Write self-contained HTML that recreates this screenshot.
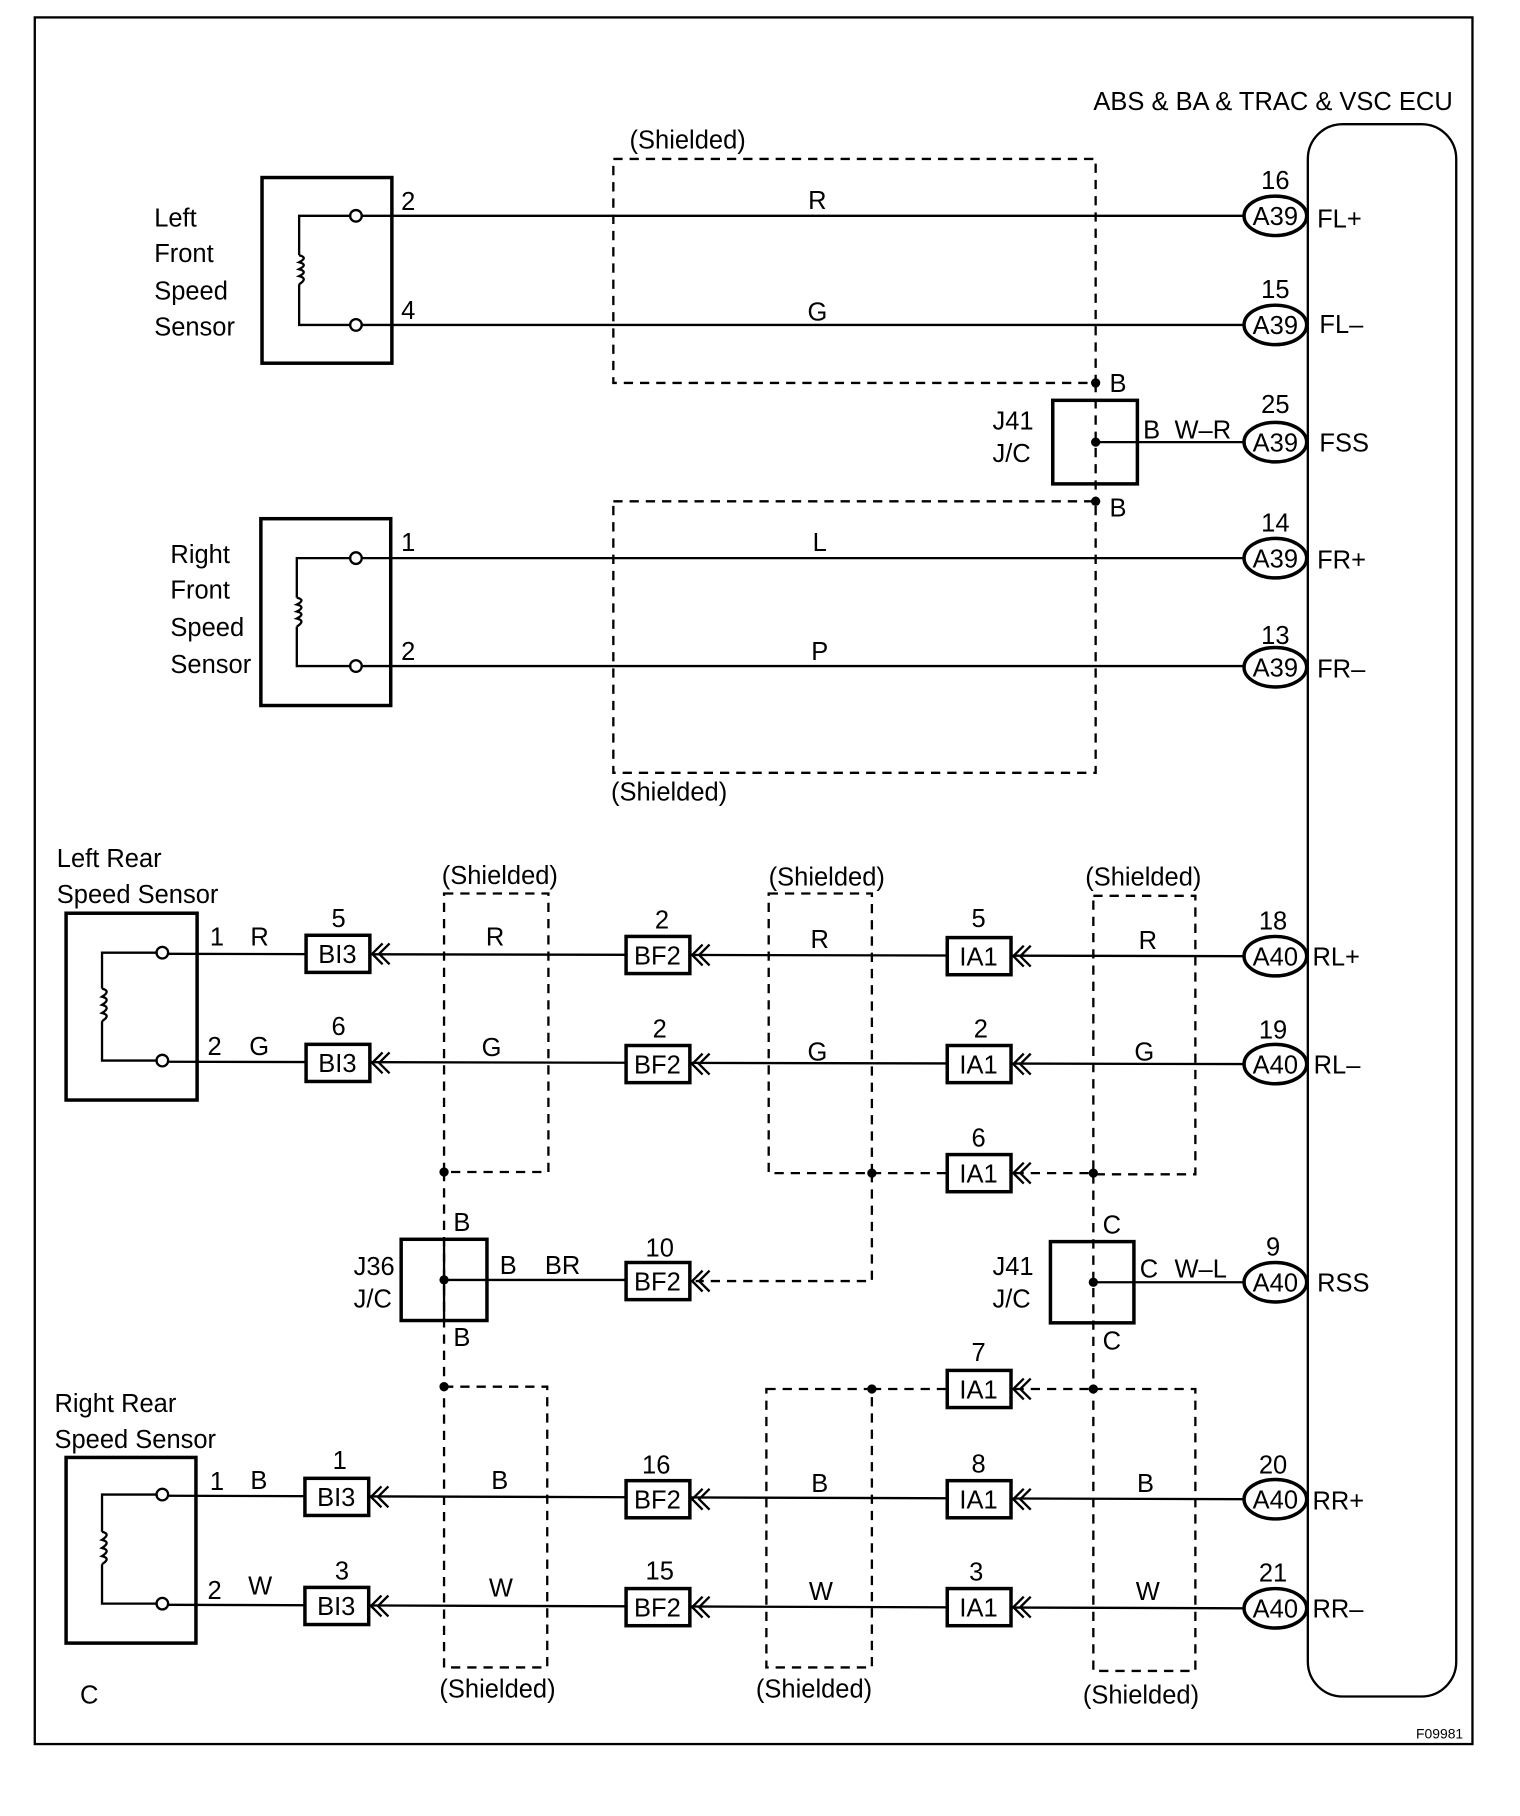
<!DOCTYPE html>
<html><head><meta charset="utf-8"><style>
html,body{margin:0;padding:0;background:#fff;}
svg{display:block;}
text{font-family:"Liberation Sans",Arial,sans-serif;font-size:22px;fill:#000;}
.c{text-anchor:middle;}
.w{stroke:#000;stroke-width:2;fill:none;}
.b{stroke:#000;stroke-width:3;fill:#fff;}
.o{stroke:#000;stroke-width:3;fill:none;}
.d{stroke:#000;stroke-width:2;fill:none;stroke-dasharray:8,6;}
</style></head><body>
<svg width="1520" height="1816" viewBox="0 0 1311 1565" preserveAspectRatio="none" xmlns="http://www.w3.org/2000/svg">
<rect x="30" y="15" width="1240" height="1488" class="w" stroke-width="3"/>
<rect x="1128" y="107" width="128" height="1355" rx="30" class="w" stroke-width="3"/>
<text x="1253" y="95" text-anchor="end">ABS &amp; BA &amp; TRAC &amp; VSC ECU</text>

<rect x="529" y="137" width="416" height="193" class="d"/>
<text x="543" y="128">(Shielded)</text>
<rect x="529" y="432" width="416" height="234" class="d"/>
<text x="527" y="690">(Shielded)</text>
<line x1="945" y1="330" x2="945" y2="432" class="d"/>

<rect x="226" y="153" width="112" height="160" class="b"/>
<path d="M303,186 H258 V220 M258,245 V280 H303" class="w"/>
<path d="M258,220 q8,2 0,6 q8,2 0,6 q8,2 0,6 q8,2 0,7" class="w"/>
<circle cx="307" cy="186" r="5" class="w" fill="#fff"/>
<circle cx="307" cy="280" r="5" class="w" fill="#fff"/>
<text x="133" y="195">Left</text><text x="133" y="226">Front</text><text x="133" y="258">Speed</text><text x="133" y="289">Sensor</text>
<line x1="312" y1="186" x2="1073" y2="186" class="w"/>
<line x1="312" y1="280" x2="1073" y2="280" class="w"/>
<text x="346" y="181">2</text><text x="346" y="275">4</text>
<text x="705" y="180" class="c">R</text><text x="705" y="276" class="c">G</text>

<rect x="225" y="447" width="112" height="161" class="b"/>
<path d="M303,481 H256 V515 M256,540 V574 H303" class="w"/>
<path d="M256,515 q8,2 0,6 q8,2 0,6 q8,2 0,6 q8,2 0,7" class="w"/>
<circle cx="307" cy="481" r="5" class="w" fill="#fff"/>
<circle cx="307" cy="574" r="5" class="w" fill="#fff"/>
<text x="147" y="485">Right</text><text x="147" y="516">Front</text><text x="147" y="548">Speed</text><text x="147" y="580">Sensor</text>
<line x1="312" y1="481" x2="1073" y2="481" class="w"/>
<line x1="312" y1="574" x2="1073" y2="574" class="w"/>
<text x="346" y="475">1</text><text x="346" y="569">2</text>
<text x="707" y="475" class="c">L</text><text x="707" y="569" class="c">P</text>

<rect x="908" y="345" width="73" height="72" class="o"/>
<line x1="945" y1="381" x2="1073" y2="381" class="w"/>
<circle cx="945" cy="330" r="4"/><circle cx="945" cy="381" r="4"/><circle cx="945" cy="432" r="4"/>
<text x="957" y="338">B</text><text x="957" y="445">B</text>
<text x="986" y="378">B</text><text x="1013" y="378">W–R</text>
<text x="856" y="370">J41</text><text x="856" y="398">J/C</text>

<ellipse cx="1100" cy="186" rx="27" ry="17" class="b"/><text x="1100" y="194" class="c">A39</text><text x="1100" y="163" class="c">16</text><text x="1136" y="196">FL+</text>
<ellipse cx="1100" cy="280" rx="27" ry="17" class="b"/><text x="1100" y="288" class="c">A39</text><text x="1100" y="257" class="c">15</text><text x="1138" y="287">FL–</text>
<ellipse cx="1100" cy="381" rx="27" ry="17" class="b"/><text x="1100" y="389" class="c">A39</text><text x="1100" y="356" class="c">25</text><text x="1138" y="389">FSS</text>
<ellipse cx="1100" cy="481" rx="27" ry="17" class="b"/><text x="1100" y="489" class="c">A39</text><text x="1100" y="458" class="c">14</text><text x="1136" y="490">FR+</text>
<ellipse cx="1100" cy="575" rx="27" ry="17" class="b"/><text x="1100" y="583" class="c">A39</text><text x="1100" y="555" class="c">13</text><text x="1136" y="584">FR–</text>

<rect x="383" y="770" width="90" height="240" class="d"/><text x="381" y="762">(Shielded)</text>
<rect x="663" y="770" width="89" height="241" class="d"/><text x="663" y="763">(Shielded)</text>
<rect x="943" y="772" width="88" height="240" class="d"/><text x="936" y="763">(Shielded)</text>
<rect x="383" y="1195" width="89" height="242" class="d"/><text x="379" y="1463">(Shielded)</text>
<rect x="661" y="1197" width="91" height="240" class="d"/><text x="652" y="1463">(Shielded)</text>
<rect x="943" y="1197" width="88" height="243" class="d"/><text x="934" y="1468">(Shielded)</text>
<line x1="383" y1="1010" x2="383" y2="1195" class="d"/>
<line x1="943" y1="1012" x2="943" y2="1197" class="d"/>
<line x1="752" y1="1011" x2="817" y2="1011" class="d"/>
<line x1="875" y1="1011" x2="943" y2="1011" class="d"/>
<line x1="752" y1="1197" x2="817" y2="1197" class="d"/>
<line x1="875" y1="1197" x2="943" y2="1197" class="d"/>
<path d="M752,1011 V1104 H600" class="d"/>

<text x="49" y="747">Left Rear</text><text x="49" y="778">Speed Sensor</text>
<rect x="57" y="787" width="113" height="161" class="b"/>
<path d="M136,821 H88 V852 M88,880 V914 H136" class="w"/>
<path d="M88,852 q8,2 0,7 q8,2 0,7 q8,2 0,7 q8,2 0,7" class="w"/>
<circle cx="140" cy="821" r="5" class="w" fill="#fff"/><circle cx="140" cy="914" r="5" class="w" fill="#fff"/>
<text x="181" y="815">1</text><text x="216" y="815">R</text>
<text x="179" y="909">2</text><text x="215" y="909">G</text>

<text x="47" y="1217">Right Rear</text><text x="47" y="1248">Speed Sensor</text>
<rect x="57" y="1256" width="112" height="160" class="b"/>
<path d="M136,1288 H88 V1320 M88,1348 V1382 H136" class="w"/>
<path d="M88,1320 q8,2 0,7 q8,2 0,7 q8,2 0,7 q8,2 0,7" class="w"/>
<circle cx="140" cy="1288" r="5" class="w" fill="#fff"/><circle cx="140" cy="1382" r="5" class="w" fill="#fff"/>
<text x="181" y="1284">1</text><text x="216" y="1283">B</text>
<text x="179" y="1378">2</text><text x="214" y="1374">W</text>

<line x1="145" y1="822" x2="1073" y2="824" class="w"/>
<line x1="145" y1="915" x2="1073" y2="917" class="w"/>
<line x1="145" y1="1289" x2="1073" y2="1292" class="w"/>
<line x1="145" y1="1383" x2="1073" y2="1386" class="w"/>
<line x1="383" y1="1103" x2="540" y2="1103" class="w"/>
<line x1="943" y1="1105" x2="1073" y2="1105" class="w"/>
<text x="427" y="815" class="c">R</text><text x="707" y="817" class="c">R</text><text x="990" y="818" class="c">R</text>
<text x="424" y="910" class="c">G</text><text x="705" y="914" class="c">G</text><text x="987" y="914" class="c">G</text>
<text x="431" y="1283" class="c">B</text><text x="707" y="1286" class="c">B</text><text x="988" y="1286" class="c">B</text>
<text x="432" y="1376" class="c">W</text><text x="708" y="1379" class="c">W</text><text x="990" y="1379" class="c">W</text>

<rect x="264" y="806" width="55" height="32" class="b"/><text x="291" y="830" class="c">BI3</text><text x="292" y="799" class="c">5</text>
<rect x="264" y="900" width="55" height="32" class="b"/><text x="291" y="924" class="c">BI3</text><text x="292" y="892" class="c">6</text>
<rect x="263" y="1274" width="55" height="32" class="b"/><text x="290" y="1298" class="c">BI3</text><text x="293" y="1266" class="c">1</text>
<rect x="263" y="1368" width="55" height="32" class="b"/><text x="290" y="1392" class="c">BI3</text><text x="295" y="1361" class="c">3</text>
<rect x="540" y="807" width="55" height="32" class="b"/><text x="567" y="831" class="c">BF2</text><text x="571" y="800" class="c">2</text>
<rect x="540" y="901" width="55" height="32" class="b"/><text x="567" y="925" class="c">BF2</text><text x="569" y="894" class="c">2</text>
<rect x="540" y="1088" width="55" height="32" class="b"/><text x="567" y="1112" class="c">BF2</text><text x="569" y="1083" class="c">10</text>
<rect x="540" y="1276" width="55" height="32" class="b"/><text x="567" y="1300" class="c">BF2</text><text x="566" y="1270" class="c">16</text>
<rect x="540" y="1369" width="55" height="32" class="b"/><text x="567" y="1393" class="c">BF2</text><text x="569" y="1361" class="c">15</text>
<rect x="817" y="808" width="55" height="32" class="b"/><text x="844" y="832" class="c">IA1</text><text x="844" y="799" class="c">5</text>
<rect x="817" y="901" width="55" height="32" class="b"/><text x="844" y="925" class="c">IA1</text><text x="846" y="894" class="c">2</text>
<rect x="817" y="995" width="55" height="32" class="b"/><text x="844" y="1019" class="c">IA1</text><text x="844" y="988" class="c">6</text>
<rect x="817" y="1181" width="55" height="32" class="b"/><text x="844" y="1205" class="c">IA1</text><text x="844" y="1173" class="c">7</text>
<rect x="817" y="1276" width="55" height="32" class="b"/><text x="844" y="1300" class="c">IA1</text><text x="844" y="1269" class="c">8</text>
<rect x="817" y="1369" width="55" height="32" class="b"/><text x="844" y="1393" class="c">IA1</text><text x="842" y="1362" class="c">3</text>

<g class="w" stroke-width="1.6">
<path d="M330,813 l-9,9 l9,9 M336,813 l-9,9 l9,9"/>
<path d="M330,907 l-9,9 l9,9 M336,907 l-9,9 l9,9"/>
<path d="M329,1281 l-9,9 l9,9 M335,1281 l-9,9 l9,9"/>
<path d="M329,1375 l-9,9 l9,9 M335,1375 l-9,9 l9,9"/>
<path d="M606,814 l-9,9 l9,9 M612,814 l-9,9 l9,9"/>
<path d="M606,908 l-9,9 l9,9 M612,908 l-9,9 l9,9"/>
<path d="M606,1095 l-9,9 l9,9 M612,1095 l-9,9 l9,9"/>
<path d="M606,1283 l-9,9 l9,9 M612,1283 l-9,9 l9,9"/>
<path d="M606,1376 l-9,9 l9,9 M612,1376 l-9,9 l9,9"/>
<path d="M883,815 l-9,9 l9,9 M889,815 l-9,9 l9,9"/>
<path d="M883,908 l-9,9 l9,9 M889,908 l-9,9 l9,9"/>
<path d="M883,1002 l-9,9 l9,9 M889,1002 l-9,9 l9,9"/>
<path d="M883,1188 l-9,9 l9,9 M889,1188 l-9,9 l9,9"/>
<path d="M883,1283 l-9,9 l9,9 M889,1283 l-9,9 l9,9"/>
<path d="M883,1376 l-9,9 l9,9 M889,1376 l-9,9 l9,9"/>
</g>

<rect x="346" y="1068" width="74" height="70" class="o"/>
<line x1="383" y1="1068" x2="383" y2="1138" class="w"/>
<text x="391" y="1061">B</text><text x="391" y="1160">B</text>
<text x="431" y="1098">B</text><text x="470" y="1098">BR</text>
<text x="305" y="1099">J36</text><text x="305" y="1127">J/C</text>

<rect x="906" y="1070" width="72" height="70" class="o"/>
<text x="951" y="1063">C</text><text x="951" y="1163">C</text>
<text x="983" y="1101">C</text><text x="1013" y="1101">W–L</text>
<text x="856" y="1099">J41</text><text x="856" y="1127">J/C</text>

<circle cx="383" cy="1010" r="4"/><circle cx="383" cy="1103" r="4"/><circle cx="383" cy="1195" r="4"/>
<circle cx="752" cy="1011" r="4"/><circle cx="943" cy="1011" r="4"/><circle cx="943" cy="1105" r="4"/>
<circle cx="752" cy="1197" r="4"/><circle cx="943" cy="1197" r="4"/>

<ellipse cx="1100" cy="824" rx="27" ry="17" class="b"/><text x="1100" y="832" class="c">A40</text><text x="1098" y="801" class="c">18</text><text x="1132" y="832">RL+</text>
<ellipse cx="1100" cy="917" rx="27" ry="17" class="b"/><text x="1100" y="925" class="c">A40</text><text x="1098" y="895" class="c">19</text><text x="1133" y="925">RL–</text>
<ellipse cx="1100" cy="1105" rx="27" ry="17" class="b"/><text x="1100" y="1113" class="c">A40</text><text x="1098" y="1082" class="c">9</text><text x="1136" y="1113">RSS</text>
<ellipse cx="1100" cy="1292" rx="27" ry="17" class="b"/><text x="1100" y="1300" class="c">A40</text><text x="1098" y="1270" class="c">20</text><text x="1132" y="1301">RR+</text>
<ellipse cx="1100" cy="1386" rx="27" ry="17" class="b"/><text x="1100" y="1394" class="c">A40</text><text x="1098" y="1363" class="c">21</text><text x="1132" y="1394">RR–</text>

<text x="69" y="1468">C</text>
<text x="1262" y="1498" text-anchor="end" style="font-size:12px">F09981</text>
</svg>
</body></html>
